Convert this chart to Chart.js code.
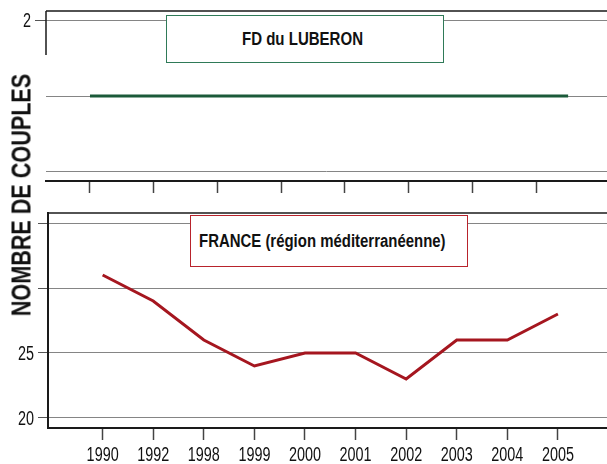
<!DOCTYPE html>
<html>
<head>
<meta charset="utf-8">
<script src="https://cdn.jsdelivr.net/npm/chart.js@4"></script>
<style>
  body { margin: 0; background: #fff; width: 607px; height: 464px; position: relative; overflow: hidden;
         font-family: 'Liberation Sans', Arial, sans-serif; color: #111; }
  canvas { position: absolute; left: 0; }
  #top-chart { top: 0; }
  #bottom-chart { top: 200px; }
  .legend-box { position: absolute; background: #fff; font-weight: bold; font-size: 18px; box-sizing: border-box; white-space: nowrap; }
  .legend-box span { display: inline-block; }
  #legend-luberon { left: 166px; top: 15px; width: 278px; height: 48px; border: 1px solid #2f7a58; text-align: center; line-height: 46px; padding-right: 5px; }
  #legend-luberon span { transform: scaleX(0.835); }
  #legend-france { left: 190px; top: 215px; width: 278px; height: 52px; border: 1px solid #b8232c; line-height: 51px; }
  #legend-france span { transform: scaleX(0.83); transform-origin: 0 50%; margin-left: 8px; }
  #y-title { position: absolute; left: 22px; top: 195px; transform: translate(-50%, -50%) rotate(-90deg) scaleX(0.8);
             font-weight: bold; font-size: 27px; white-space: nowrap; }
</style>
</head>
<body>
<canvas id="top-chart" width="607" height="200"></canvas>
<canvas id="bottom-chart" width="607" height="264"></canvas>
<div id="legend-luberon" class="legend-box"><span>FD du LUBERON</span></div>
<div id="legend-france" class="legend-box"><span>FRANCE (région méditerranéenne)</span></div>
<div id="y-title">NOMBRE DE COUPLES</div>
<script>
  // Données
  const years = [1990, 1992, 1998, 1999, 2000, 2001, 2002, 2003, 2004, 2005];
  const franceCouples = [31, 29, 26, 24, 25, 25, 23, 26, 26, 28];
  const luberonCouples = [1, 1, 1, 1, 1, 1, 1, 1, 1, 1];
  const franceTicks = [20, 25, 30, 35];
  const franceLabels = [20, 25];
  const luberonTicks = [0, 1, 2];
  const luberonLabels = [2];
  const luberonTickYears = [1990, 1992, 1994, 1996, 1998, 2000, 2002, 2004];

  const FONT = "'Liberation Sans', Arial, sans-serif";
  const GRID = '#858585';
  const AXIS = '#1a1a1a';
  const NARROW = 0.72; // police étroite simulée

  // Cadre : ligne du haut + bout d'axe gauche (coupure)
  const frame = {
    id: 'frame',
    afterDraw(chart, args, opts) {
      const { ctx, chartArea: a } = chart;
      ctx.save();
      ctx.strokeStyle = AXIS;
      ctx.lineWidth = 1.5;
      ctx.beginPath();
      ctx.moveTo(a.left, a.top);
      ctx.lineTo(a.right, a.top);
      if (opts.stub) {
        ctx.moveTo(a.left, a.top);
        ctx.lineTo(a.left, a.top + opts.stub);
      }
      ctx.stroke();
      ctx.restore();
    }
  };

  // Étiquettes des graduations, compressées horizontalement
  const narrowLabels = {
    id: 'narrowLabels',
    afterDraw(chart, args, opts) {
      const { ctx } = chart;
      ctx.save();
      ctx.font = '20px ' + FONT;
      ctx.fillStyle = '#111';
      ['x', 'y'].forEach(id => {
        const s = chart.scales[id];
        const fmt = opts[id];
        if (!fmt) return;
        s.ticks.forEach((t, i) => {
          const text = fmt(t.value);
          if (!text) return;
          const p = s.getPixelForTick(i);
          ctx.save();
          if (s.isHorizontal()) {
            ctx.translate(p, s.top + 17);
            ctx.textAlign = 'center';
            ctx.textBaseline = 'top';
          } else {
            ctx.translate(s.right - opts.gap, p + 1);
            ctx.textAlign = 'right';
            ctx.textBaseline = 'middle';
          }
          ctx.scale(NARROW, 1);
          ctx.fillText(text, 0, 0);
          ctx.restore();
        });
      });
      ctx.restore();
    }
  };

  new Chart(document.getElementById('top-chart'), {
    type: 'line',
    data: {
      datasets: [{
        data: years.map((y, i) => ({ x: y, y: luberonCouples[i] })),
        borderColor: '#1b5a39', borderWidth: 3, pointRadius: 0, tension: 0
      }]
    },
    options: {
      responsive: false, animation: false,
      layout: { padding: { top: 11, left: 0, right: 0, bottom: 0 } },
      plugins: {
        legend: { display: false }, tooltip: { enabled: false },
        frame: { stub: 44 },
        narrowLabels: { gap: 15, y: v => luberonLabels.includes(v) ? String(v) : '' }
      },
      scales: {
        x: {
          type: 'linear', min: 1988.62, max: 2006.22,
          afterBuildTicks: s => { s.ticks = luberonTickYears.map(v => ({ value: v })); },
          afterFit: s => { s.height = 19; },
          ticks: { display: false },
          grid: { drawOnChartArea: false, tickLength: 12, tickColor: '#444', tickWidth: 1.5 },
          border: { color: AXIS, width: 2 }
        },
        y: {
          min: -0.12, max: 2.12,
          afterBuildTicks: s => { s.ticks = luberonTicks.map(v => ({ value: v })); },
          afterFit: s => { s.width = 46; },
          ticks: { display: false },
          grid: { color: GRID, tickLength: 11, tickColor: c => (c.tick && luberonLabels.includes(c.tick.value)) ? '#555' : 'rgba(0,0,0,0)' },
          border: { display: false }
        }
      }
    },
    plugins: [frame, narrowLabels]
  });

  new Chart(document.getElementById('bottom-chart'), {
    type: 'line',
    data: {
      datasets: [{
        data: years.map((y, i) => ({ x: i, y: franceCouples[i] })),
        borderColor: '#a5161f', borderWidth: 3, pointRadius: 0, tension: 0
      }]
    },
    options: {
      responsive: false, animation: false,
      layout: { padding: { top: 13, left: 0, right: 0, bottom: 0 } },
      plugins: {
        legend: { display: false }, tooltip: { enabled: false },
        frame: {},
        narrowLabels: {
          gap: 14,
          x: v => String(years[v]),
          y: v => franceLabels.includes(v) ? String(v) : ''
        }
      },
      scales: {
        x: {
          type: 'linear', min: -1.08, max: 9.97,
          afterBuildTicks: s => { s.ticks = years.map((_, i) => ({ value: i })); },
          afterFit: s => { s.height = 36; },
          ticks: { display: false },
          grid: { drawOnChartArea: false, tickLength: 12, tickColor: '#444', tickWidth: 1.5 },
          border: { color: AXIS, width: 2 }
        },
        y: {
          min: 19.23, max: 35.77,
          afterBuildTicks: s => { s.ticks = franceTicks.map(v => ({ value: v })); },
          afterFit: s => { s.width = 48; },
          ticks: { display: false },
          grid: { color: GRID, tickLength: 10, tickColor: '#555' },
          border: { color: AXIS, width: 2 }
        }
      }
    },
    plugins: [frame, narrowLabels]
  });
</script>
</body>
</html>
